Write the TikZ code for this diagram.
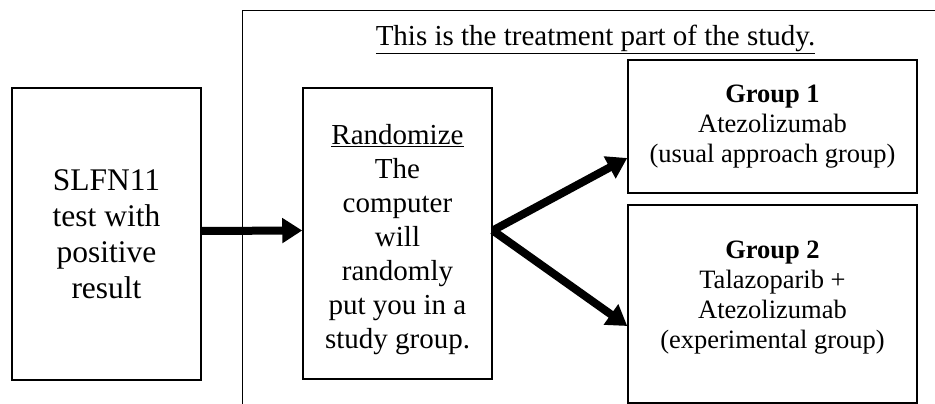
\documentclass[tikz,border=0pt]{standalone}
\usepackage{fontspec}
\setmainfont{Liberation Serif}
\usetikzlibrary{arrows.meta}

\begin{document}
\begin{tikzpicture}[x=1pt, y=-1pt,
    box/.style={draw, line width=1.5pt, align=center, inner sep=0pt},
    arr/.style={-{Triangle[length=20pt,width=24pt]}, line width=8pt},
    big/.style={font=\fontsize{31.5}{36}\selectfont},
    mid/.style={font=\fontsize{29}{34}\selectfont},
    small/.style={font=\fontsize{26.5}{30}\selectfont}
]
\useasboundingbox (0,0) rectangle (935,404);

% Treatment part
\draw[line width=1pt] (242,404) -- (242,11) -- (935,11);
\node[mid] (title) at (595.5,39) {\underline{This is the treatment part of the study.}};

% Boxes
\node[box, big, minimum width=189pt, minimum height=292pt] (test) at (106.5,234) {SLFN11\\test with\\positive\\result};
\node[box, mid, minimum width=189pt, minimum height=291pt] (rand) at (397.5,233.5) {\rule{0pt}{32pt}\underline{Randomize}\\The\\computer\\will\\randomly\\put you in a\\study group.};
\node[box, small, minimum width=289pt, minimum height=133pt] (grpA) at (772.5,126.5) {\textbf{Group 1}\\Atezolizumab\\(usual approach group)\rule[-6pt]{0pt}{0pt}};
\node[box, small, minimum width=289pt, minimum height=198pt] (grpB) at (772.5,304) {\textbf{Group 2}\\Talazoparib +\\Atezolizumab\\(experimental group)\rule[-18pt]{0pt}{0pt}};

% Arrows
\draw[arr] ([yshift=3pt]test.east) -- ([yshift=3pt]rand.west);
\draw[arr] ([yshift=3pt]rand.east) -- ([yshift=-31.5pt]grpA.west);
\draw[arr] ([yshift=3pt]rand.east) -- ([yshift=-22pt]grpB.west);

\end{tikzpicture}
\end{document}
